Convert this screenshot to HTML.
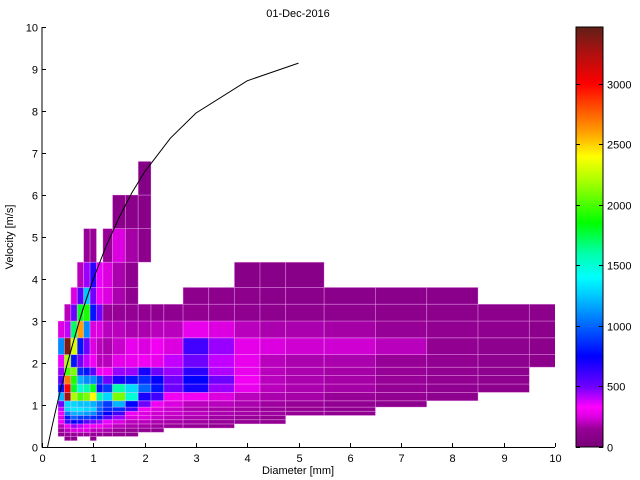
<!DOCTYPE html>
<html><head><meta charset="utf-8"><style>
html,body{margin:0;padding:0;background:#fff;width:640px;height:480px;overflow:hidden}
svg text{font-family:"Liberation Sans",sans-serif;font-size:11px;fill:#000}
</style></head><body>
<svg id="chart" width="640" height="480" xmlns="http://www.w3.org/2000/svg">
<rect width="640" height="480" fill="#fff"/>
<text x="298" y="17" text-anchor="middle">01-Dec-2016</text>
<text x="298" y="474" text-anchor="middle">Diameter [mm]</text>
<text transform="translate(13,237) rotate(-90)" text-anchor="middle">Velocity [m/s]</text>
<g id="cells"></g>
<g id="curve"></g>
<g id="axes"></g>
<g id="cbar"></g>
</svg>
<script>
const diamEdges=[0.062,0.187,0.312,0.437,0.562,0.687,0.812,0.937,1.062,1.187,1.375,1.625,1.875,2.125,2.375,2.75,3.25,3.75,4.25,4.75,5.5,6.5,7.5,8.5,9.5,11];
const velEdges=[0.05,0.15,0.25,0.35,0.45,0.55,0.65,0.75,0.85,0.95,1.1,1.3,1.5,1.7,1.9,2.2,2.6,3.0,3.4,3.8,4.4,5.2,6.0,6.8];
const counts=[
[],
[0,0,0,100,100,0,0,100],
[0,0,120,150,150,150,150,150,130,130,120,110],
[0,0,150,200,250,250,250,200,200,180,150,130,120,110],
[0,0,200,300,450,400,350,300,300,250,200,180,170,160,150,140,130],
[0,0,300,600,750,700,550,500,450,350,250,200,200,180,170,160,150,140,130],
[0,0,250,800,1000,900,900,850,800,550,450,250,250,220,200,180,160,150,130],
[0,0,300,1050,1200,1200,1150,1100,900,750,600,300,250,230,220,200,180,170,160,140,120],
[0,0,400,1300,1350,1350,1300,1300,1000,850,850,600,300,250,220,180,170,160,150,140,120],
[0,0,500,1300,1300,1250,1250,1200,1050,900,1200,750,500,300,250,200,200,180,160,150,130,110],
[0,0,1200,3300,2200,2000,2100,2400,1600,1300,2100,1500,700,600,300,300,250,200,180,170,150,130,110],
[0,0,800,3000,1800,1500,1600,1800,800,900,1600,1300,1000,800,500,700,450,280,200,180,170,140,120,100],
[0,0,550,2700,1900,1200,1100,1100,900,500,700,800,850,750,500,750,500,300,200,180,170,150,130,110],
[0,0,450,2000,2100,850,800,550,300,300,450,450,700,500,450,650,420,280,200,180,170,150,130,110],
[0,0,350,2200,800,500,400,300,200,200,270,280,300,280,400,500,400,280,200,180,180,150,130,110,100],
[0,0,1100,3400,2300,800,500,250,200,180,220,280,250,300,250,600,450,270,250,230,230,200,130,110,100],
[0,0,250,400,1700,2600,1100,250,250,200,200,180,180,200,200,280,250,200,180,180,170,150,130,120,100],
[0,0,0,200,500,1800,1900,800,500,150,150,140,130,120,120,130,130,120,110,110,110,100,100,100,100],
[0,0,0,0,250,550,1250,500,300,250,180,120,0,0,0,100,100,100,90,90,90,90,90],
[0,0,0,0,0,200,450,650,350,250,180,120,0,0,0,0,0,80,80,80],
[0,0,0,0,0,0,150,150,0,150,250,170,100],
[0,0,0,0,0,0,0,0,0,0,90,90,80],
[0,0,0,0,0,0,0,0,0,0,0,0,60]
];
const curveD=[0.1,0.2,0.3,0.4,0.5,0.6,0.7,0.8,0.9,1.0,1.25,1.5,1.75,2.0,2.5,3,4,5];
const curveV=[-0.05,0.52,1.05,1.55,2.02,2.46,2.88,3.28,3.65,4.0,4.78,5.46,6.05,6.55,7.35,7.95,8.72,9.14];
const xTicks=[0,1,2,3,4,5,6,7,8,9,10];
const yTicks=[0,1,2,3,4,5,6,7,8,9,10];
const cbTicks=[0,500,1000,1500,2000,2500,3000];
const cMax=3470;

const NS="http://www.w3.org/2000/svg";
const X0=42,X1=555,Y0=447,Y1=27;
function sx(d){return X0+(X1-X0)*d/10;}
function sy(v){return Y0-(Y0-Y1)*v/10;}
const stops=[[0,[120,0,120]],[150,[150,0,150]],[250,[220,0,225]],[330,[255,0,255]],[500,[110,0,255]],[750,[0,0,255]],[1000,[0,100,255]],[1250,[0,200,255]],[1400,[0,255,255]],[1600,[0,255,170]],[1850,[0,255,0]],[2200,[170,255,0]],[2400,[255,255,0]],[2600,[255,160,0]],[2800,[255,80,0]],[3000,[255,0,0]],[3250,[176,16,16]],[3470,[96,32,24]]];
function col(v){
  for(let i=1;i<stops.length;i++){
    if(v<=stops[i][0]){const a=stops[i-1],b=stops[i];const t=(v-a[0])/(b[0]-a[0]);
      const c=a[1].map((q,k)=>Math.round(q+(b[1][k]-q)*t));return `rgb(${c[0]},${c[1]},${c[2]})`;}
  }
  return "rgb(96,32,24)";
}
function mk(tag,attrs,parent){const e=document.createElementNS(NS,tag);for(const k in attrs)e.setAttribute(k,attrs[k]);parent.appendChild(e);return e;}

const defs=mk("defs",{},document.getElementById("chart"));
const cp=mk("clipPath",{id:"plotclip"},defs);
mk("rect",{x:X0,y:Y1,width:X1-X0,height:Y0-Y1},cp);

const gC=document.getElementById("cells");
gC.setAttribute("clip-path","url(#plotclip)");
counts.forEach((row,j)=>{
  row.forEach((c,i)=>{
    if(!c) return;
    const x=sx(diamEdges[i]),x2=sx(diamEdges[i+1]);
    const y=sy(velEdges[j+1]),y2=sy(velEdges[j]);
    const r=mk("rect",{x:x,y:y,width:x2-x,height:y2-y,fill:col(c),stroke:"rgba(255,190,255,0.4)","stroke-width":0.8},gC);
    
    
  });
});

const gL=document.getElementById("curve");
gL.setAttribute("clip-path","url(#plotclip)");
const pts=curveD.map((d,k)=>sx(d).toFixed(1)+","+sy(curveV[k]).toFixed(1)).join(" ");
const pl=mk("polyline",{points:pts,fill:"none",stroke:"#000","stroke-width":1},gL);



const gA=document.getElementById("axes");
mk("line",{x1:X0,y1:Y1,x2:X0,y2:Y0+0.5,stroke:"#000","stroke-width":1},gA);
mk("line",{x1:X0,y1:Y0+0.5,x2:X1,y2:Y0+0.5,stroke:"#000","stroke-width":1},gA);
xTicks.forEach(t=>{
  const x=Math.round(sx(t))+0.5;
  mk("line",{x1:x,y1:Y0,x2:x,y2:Y0-4,stroke:"#000"},gA);
  const tx=mk("text",{x:x,y:Y0+15,"text-anchor":"middle"},gA);
  tx.textContent=t;
  
  
});
yTicks.forEach(t=>{
  const y=Math.round(sy(t))+0.5;
  mk("line",{x1:X0,y1:y,x2:X0+4,y2:y,stroke:"#000"},gA);
  const tx=mk("text",{x:X0-4,y:y+4,"text-anchor":"end"},gA);
  tx.textContent=t;
  
  
});

const gB=document.getElementById("cbar");
const CX=576,CW=27;
const grad=mk("linearGradient",{id:"cbgrad",x1:0,y1:1,x2:0,y2:0},defs);
stops.forEach(s=>{mk("stop",{offset:(s[0]/cMax).toFixed(4),"stop-color":col(s[0])},grad);});
const cbr=mk("rect",{x:CX,y:Y1,width:CW,height:Y0-Y1,fill:"url(#cbgrad)",stroke:"#000","stroke-width":1},gB);


function cy(v){return Y0-(Y0-Y1)*v/cMax;}
cbTicks.forEach(t=>{
  const y=Math.round(cy(t))+0.5;
  mk("line",{x1:CX,y1:y,x2:CX+4,y2:y,stroke:"#000"},gB);
  mk("line",{x1:CX+CW-4,y1:y,x2:CX+CW,y2:y,stroke:"#000"},gB);
  const tx=mk("text",{x:CX+CW+4,y:y+4},gB);
  tx.textContent=t;
  
  
});
</script>
</body></html>
